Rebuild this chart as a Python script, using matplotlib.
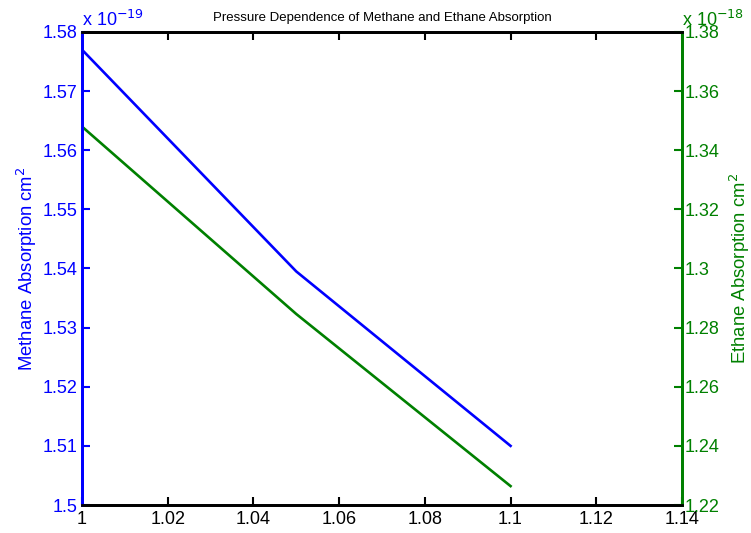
import matplotlib
matplotlib.use("Agg")
import matplotlib.pyplot as plt

# -----------------------------
# DATA
# -----------------------------
pressure = [1.0, 1.05, 1.1]
methane = [1.577e-19, 1.5395e-19, 1.510e-19]
ethane = [1.348e-18, 1.2846e-18, 1.2264e-18]

x_ticks = [1, 1.02, 1.04, 1.06, 1.08, 1.1, 1.12, 1.14]
x_labels = ["1", "1.02", "1.04", "1.06", "1.08", "1.1", "1.12", "1.14"]
left_ticks = [1.5, 1.51, 1.52, 1.53, 1.54, 1.55, 1.56, 1.57, 1.58]
left_labels = ["1.5", "1.51", "1.52", "1.53", "1.54", "1.55", "1.56", "1.57", "1.58"]
right_ticks = [1.22, 1.24, 1.26, 1.28, 1.3, 1.32, 1.34, 1.36, 1.38]
right_labels = ["1.22", "1.24", "1.26", "1.28", "1.3", "1.32", "1.34", "1.36", "1.38"]

blue = (0, 0, 1)
green = (0, 0.5, 0)

plt.rcParams["font.family"] = ["Liberation Sans", "DejaVu Sans"]

# -----------------------------
# PLOT
# -----------------------------
fig = plt.figure(figsize=(7.51, 5.33), dpi=100)
ax = fig.add_axes([0.1092, 0.0525, 0.7989, 0.8875])
ax2 = ax.twinx()

ax.plot(pressure, [v / 1e-19 for v in methane], color=blue, lw=1.9)
ax2.plot(pressure, [v / 1e-18 for v in ethane], color=green, lw=1.9)

ax.set_xlim(1, 1.14)
ax.set_ylim(1.5, 1.58)
ax2.set_ylim(1.22, 1.38)

ax.set_xticks(x_ticks)
ax.set_xticklabels(x_labels, fontsize=13)
ax.set_yticks(left_ticks)
ax.set_yticklabels(left_labels, fontsize=13, color=blue)
ax2.set_yticks(right_ticks)
ax2.set_yticklabels(right_labels, fontsize=13, color=green)

ax.tick_params(axis="x", direction="in", top=True, length=6, width=1.5, pad=4)
ax.tick_params(axis="y", direction="in", length=6, width=1.5, color=blue, pad=3)
ax2.tick_params(axis="y", direction="in", length=6, width=1.5, color=green, pad=2)

for a in (ax, ax2):
    for s in a.spines.values():
        s.set_linewidth(2)
    a.spines["top"].set_color("black")
    a.spines["bottom"].set_color("black")
ax.spines["left"].set_color(blue)
ax2.spines["left"].set_color(blue)
ax.spines["right"].set_color(green)
ax2.spines["right"].set_color(green)

ax.set_ylabel("Methane Absorption cm$^2$", color=blue, fontsize=13.3, labelpad=3)
ax2.set_ylabel("Ethane Absorption cm$^2$", color=green, fontsize=13.3, labelpad=6)
ax.set_title("Pressure Dependence of Methane and Ethane Absorption", fontsize=9.5, pad=8)

ax.text(0.0, 1.005, "x 10$^{-19}$", transform=ax.transAxes, color=blue,
        fontsize=13, ha="left", va="bottom")
ax2.text(1.0, 1.005, "x 10$^{-18}$", transform=ax2.transAxes, color=green,
         fontsize=13, ha="left", va="bottom")

plt.savefig("out.png", dpi=100)
plt.close()
